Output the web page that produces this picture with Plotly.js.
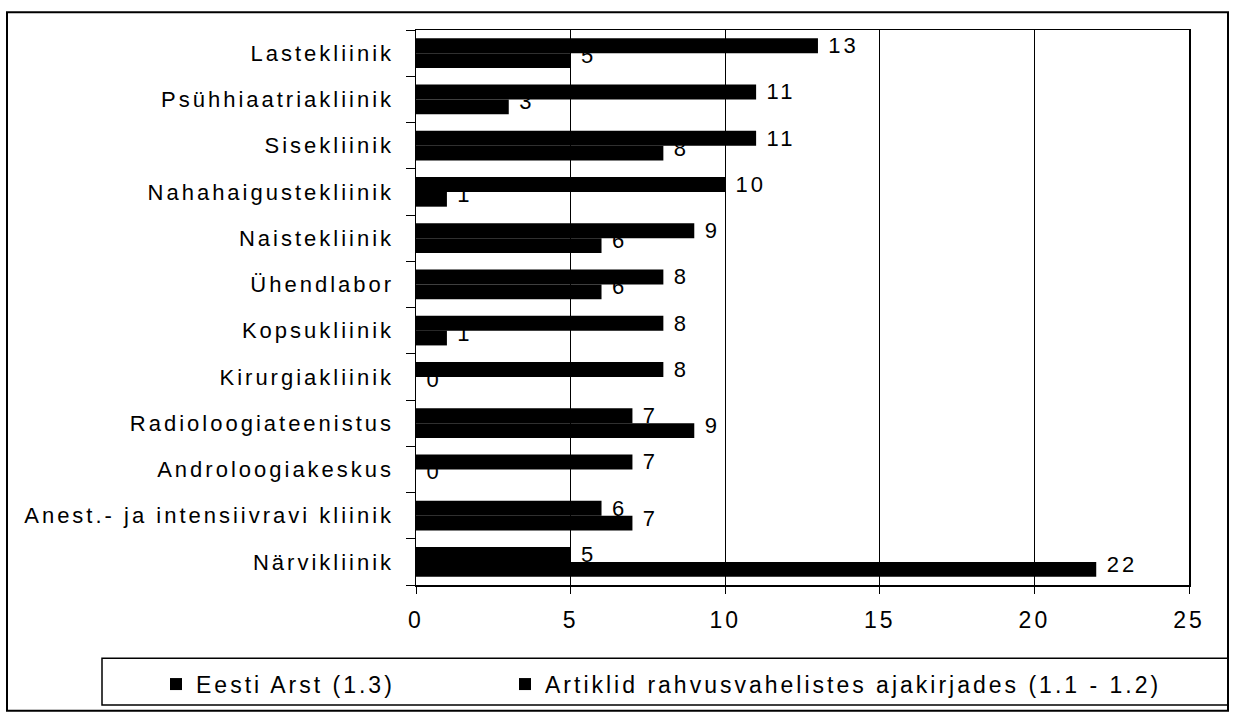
<!DOCTYPE html>
<html>
<head>
<meta charset="utf-8">
<script src="https://cdn.plot.ly/plotly-3.0.1.min.js"></script>
<style>
  html, body { margin: 0; padding: 0; background: #fff; }
  #chart { width: 1235px; height: 718px; }
  .ytick text, .xtick text, .bartext { letter-spacing: 3px; }
  text.legendtext, .infolayer g[class^="legend"] text { letter-spacing: 3px !important; }
</style>
</head>
<body>
<div id="chart"></div>
<script>
// Categories, top to bottom as in the reference
const categories = [
  "Lastekliinik",
  "Psühhiaatriakliinik",
  "Sisekliinik",
  "Nahahaigustekliinik",
  "Naistekliinik",
  "Ühendlabor",
  "Kopsukliinik",
  "Kirurgiakliinik",
  "Radioloogiateenistus",
  "Androloogiakeskus",
  "Anest.- ja intensiivravi kliinik",
  "Närvikliinik"
];
const seriesNames = ["Eesti Arst (1.3)", "Artiklid rahvusvahelistes ajakirjades (1.1 - 1.2)"];
const eestiArst = [13, 11, 11, 10, 9, 8, 8, 8, 7, 7, 6, 5];
const rahvusvahelised = [5, 3, 8, 1, 6, 6, 1, 0, 9, 0, 7, 22];
const xTicks = [0, 5, 10, 15, 20, 25];

const FONT = '"Liberation Sans", Arial, Helvetica, sans-serif';

const common = {
  type: 'bar',
  orientation: 'h',
  y: categories,
  marker: { color: '#000000', line: { width: 0 } },
  texttemplate: '\u2009%{x}',
  textposition: 'outside',
  constraintext: 'none',
  textfont: { family: FONT, size: 22, color: '#000' },
  outsidetextfont: { family: FONT, size: 22, color: '#000' },
  cliponaxis: false,
  hoverinfo: 'x+y'
};

// trace 0 is the lower bar of each pair, trace 1 the upper one (drawn on top)
const traces = [
  Object.assign({}, common, { name: seriesNames[1], x: rahvusvahelised, legend: 'legend2' }),
  Object.assign({}, common, { name: seriesNames[0], x: eestiArst, legend: 'legend' })
];

const L = 416, R = 1189, T = 30, B = 590;
const W = R - L, H = B - T;
const px = v => (v - L) / W;
const py = v => (B - v) / H;

const legendBase = {
  orientation: 'h',
  xanchor: 'left',
  y: py(690), yanchor: 'middle',
  bgcolor: 'rgba(0,0,0,0)',
  borderwidth: 0,
  font: { family: FONT, size: 23, color: '#000' },
  itemclick: false
};

const layout = {
  width: 1235,
  height: 718,
  margin: { l: L, r: 1235 - R, t: T, b: 718 - B, pad: 0 },
  paper_bgcolor: '#ffffff',
  plot_bgcolor: '#ffffff',
  font: { family: FONT, size: 22, color: '#000' },
  barmode: 'group',
  bargap: 0.36,
  bargroupgap: 0,
  showlegend: true,
  legend: Object.assign({}, legendBase, { x: px(156) }),
  legend2: Object.assign({}, legendBase, { x: px(505) }),
  xaxis: {
    range: [0, 25],
    tickvals: xTicks,
    ticktext: xTicks.map(String),
    ticks: 'outside',
    ticklen: 7,
    tickwidth: 1,
    tickcolor: '#000',
    ticklabelstandoff: 7,
    tickfont: { family: FONT, size: 23, color: '#000' },
    showgrid: true,
    gridcolor: '#000',
    gridwidth: 1,
    showline: true,
    linecolor: '#000',
    linewidth: 1.5,
    mirror: true,
    zeroline: false,
    fixedrange: true
  },
  yaxis: {
    type: 'category',
    categoryorder: 'array',
    categoryarray: categories.slice().reverse(),
    ticks: 'outside',
    tickson: 'boundaries',
    ticklen: 9,
    tickwidth: 1,
    tickcolor: '#000',
    ticklabelstandoff: 16,
    tickfont: { family: FONT, size: 22, color: '#000' },
    showgrid: false,
    showline: true,
    linecolor: '#000',
    linewidth: 1.5,
    mirror: true,
    zeroline: false,
    fixedrange: true
  },
  shapes: [
    { type: 'rect', xref: 'paper', yref: 'paper',
      x0: px(7), x1: px(1228), y0: py(717), y1: py(12),
      line: { color: '#000', width: 2 }, fillcolor: 'rgba(0,0,0,0)', layer: 'below' },
    { type: 'rect', xref: 'paper', yref: 'paper',
      x0: px(102), x1: px(1228), y0: py(711), y1: py(664),
      line: { color: '#000', width: 1.5 }, fillcolor: 'rgba(0,0,0,0)', layer: 'below' }
  ]
};

Plotly.newPlot('chart', traces, layout, { staticPlot: true, displayModeBar: false }).then(function () {
  // lift the lower bar's labels slightly so the upper bar partly covers them, as in the original
  const tr = document.querySelectorAll('.barlayer .trace');
  if (tr.length) {
    tr[0].querySelectorAll('text.bartext').forEach(function (el) {
      const t = el.getAttribute('transform') || '';
      el.setAttribute('transform', 'translate(0,-5) ' + t);
    });
  }
  // legend texts are widened with letter-spacing: do not clip them
  document.querySelectorAll('.infolayer .scrollbox').forEach(function (el) {
    el.removeAttribute('clip-path');
    el.style.clipPath = 'none';
  });
});
</script>
</body>
</html>
